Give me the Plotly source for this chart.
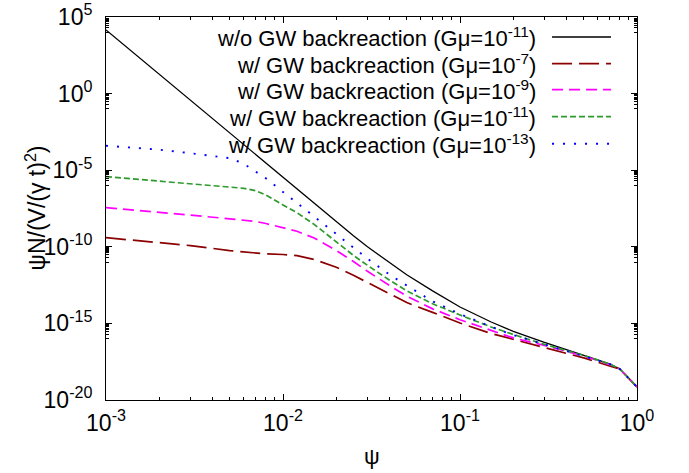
import plotly.graph_objects as go

# ---- data ----
psi = [0.001, 0.002, 0.003, 0.005, 0.006, 0.007, 0.008, 0.01, 0.012, 0.015, 0.02, 0.025,
       0.03, 0.04, 0.05, 0.07, 0.1, 0.15, 0.2, 0.3, 0.5, 0.7, 0.8, 1.0]

y_wo_gmu11 = [1.42e4, 17.7, 0.355, 2.56e-3, 4.42e-4, 1.0e-4, 2.78e-5, 3.24e-6, 5.66e-7, 6.6e-8,
              4.16e-9, 5.25e-10, 1.0e-10, 8.71e-12, 1.48e-12, 1.32e-13, 1.17e-14, 1.23e-15,
              3.05e-16, 5.75e-17, 8.79e-18, 2.27e-18, 1.05e-18, 7.06e-20]
y_w_gmu7 = [3.93e-10, 1.75e-10, 1.20e-10, 5.65e-11, 4.65e-11, 3.94e-11, 3.44e-11, 3.14e-11,
            2.62e-11, 1.48e-11, 4.59e-12, 1.38e-12, 4.57e-13, 8.32e-14, 2.29e-14, 5.25e-15,
            1.06e-15, 2.19e-16, 8.89e-17, 2.75e-17, 5.6e-18, 1.66e-18, 1.05e-18, 7.06e-20]
y_w_gmu9 = [3.56e-8, 1.84e-8, 1.16e-8, 6.73e-9, 5.45e-9, 4.48e-9, 3.32e-9, 1.74e-9, 1.03e-9,
            3.75e-10, 5.75e-11, 1.10e-11, 2.51e-12, 2.95e-13, 6.03e-14, 8.91e-15, 1.74e-15,
            3.49e-16, 1.13e-16, 3.66e-17, 7.55e-18, 2.07e-18, 1.05e-18, 7.06e-20]
y_w_gmu11 = [3.77e-6, 1.94e-6, 1.24e-6, 8.24e-7, 6.59e-7, 4.59e-7, 2.40e-7, 5.35e-8, 1.68e-8,
             2.90e-9, 2.06e-10, 2.75e-11, 6.19e-12, 6.61e-13, 1.35e-13, 1.91e-14, 3.53e-15,
             5.82e-16, 1.88e-16, 4.26e-17, 8.15e-18, 2.24e-18, 1.05e-18, 7.06e-20]
y_w_gmu13 = [3.97e-4, 2.18e-4, 1.29e-4, 6.07e-5, 2.65e-5, 8.6e-6, 2.96e-6, 3.84e-7, 7.23e-8,
             8.55e-9, 5.97e-10, 8.87e-11, 1.70e-11, 1.53e-12, 2.98e-13, 2.77e-14, 4.11e-15,
             6.0e-16, 1.75e-16, 4.33e-17, 7.91e-18, 2.24e-18, 1.05e-18, 7.06e-20]

series_names = [
    "w/o GW backreaction (G\u03bc=10<sup>-11</sup>)",
    "w/ GW backreaction (G\u03bc=10<sup>-7</sup>)",
    "w/ GW backreaction (G\u03bc=10<sup>-9</sup>)",
    "w/ GW backreaction (G\u03bc=10<sup>-11</sup>)",
    "w/ GW backreaction (G\u03bc=10<sup>-13</sup>)",
]
series_values = [y_wo_gmu11, y_w_gmu7, y_w_gmu9, y_w_gmu11, y_w_gmu13]

x_tick_vals = [1e-3, 1e-2, 1e-1, 1.0]
x_tick_text = ["10<sup>-3</sup>", "10<sup>-2</sup>", "10<sup>-1</sup>", "10<sup>0</sup>"]
y_tick_vals = [1e-20, 1e-15, 1e-10, 1e-5, 1.0, 1e5]
y_tick_text = ["10<sup>-20</sup>", "10<sup>-15</sup>", "10<sup>-10</sup>",
               "10<sup>-5</sup>", "10<sup>0</sup>", "10<sup>5</sup>"]

# ---- styles ----
colors = ["#000000", "#8b0000", "#ff00ff", "#2e9a2e", "#0000ff"]
dashes = ["solid", "20px,7px", "11px,6px", "6px,3px", "2px,9px"]
widths = [1.3, 1.7, 1.7, 1.7, 1.9]
FONT = "Liberation Sans, Arial, sans-serif"

fig = go.Figure()
for name, vals, c, d, w in zip(series_names, series_values, colors, dashes, widths):
    fig.add_trace(go.Scatter(x=psi, y=vals, mode="lines", name=name,
                             line=dict(color=c, dash=d, width=w), showlegend=False))

# minor ticks
x_minor = [k * 10.0 ** n for n in (-3, -2, -1) for k in range(2, 10)]
y_minor = [k * 10.0 ** (n - 1) for n in (5, 0, -5, -10, -15) for k in range(1, 10)]

fig.update_layout(
    width=689, height=473,
    margin=dict(l=106, r=52, t=17, b=73, autoexpand=False),
    paper_bgcolor="white", plot_bgcolor="white",
    font=dict(family=FONT, color="black", size=22),
    xaxis=dict(type="log", range=[-3, 0], showgrid=False, zeroline=False, automargin=False,
               showline=True, linecolor="black", linewidth=1, mirror="allticks",
               ticks="inside", ticklen=6, tickcolor="black", tickwidth=1,
               tickmode="array", tickvals=x_tick_vals, ticktext=x_tick_text,
               tickfont=dict(size=23, family=FONT), ticklabelstandoff=2,
               minor=dict(tickmode="array", tickvals=x_minor, ticks="inside",
                          ticklen=3, tickcolor="black", showgrid=False)),
    yaxis=dict(type="log", range=[-20, 5], showgrid=False, zeroline=False, automargin=False,
               showline=True, linecolor="black", linewidth=1, mirror="allticks",
               ticks="inside", ticklen=6, tickcolor="black", tickwidth=1,
               tickmode="array", tickvals=y_tick_vals, ticktext=y_tick_text,
               tickfont=dict(size=23, family=FONT), ticklabelstandoff=8,
               minor=dict(tickmode="array", tickvals=y_minor, ticks="inside",
                          ticklen=3, tickcolor="black", showgrid=False)),
)

# axis titles
fig.add_annotation(text="\u03c8", xref="paper", yref="paper", x=0.5, y=-0.1854,
                   showarrow=False, font=dict(size=22, family=FONT),
                   xanchor="center", yanchor="bottom")
fig.add_annotation(text="\u03c8N/(V/(\u03b3 t)<sup>2</sup>)", xref="paper", yref="paper",
                   x=-0.1337, y=0.5, textangle=-90, showarrow=False,
                   font=dict(size=23, family=FONT), xanchor="center", yanchor="middle")

# legend (text right-aligned, sample line on the right, as in the reference)
row_y = [0.9478, 0.8781, 0.8102, 0.7397, 0.6692]
for name, c, d, w, yy in zip(series_names, colors, dashes, widths, row_y):
    fig.add_annotation(text=name, xref="paper", yref="paper", x=0.8136, y=yy,
                       xanchor="right", yanchor="middle", showarrow=False,
                       font=dict(size=22, family=FONT))
    fig.add_shape(type="line", xref="paper", yref="paper", x0=0.840, x1=0.951,
                  y0=yy, y1=yy, line=dict(color=c, dash=d, width=w))

fig.write_html("out.html", config={"displayModeBar": False},
               post_script="document.body.style.margin='0';document.body.style.overflow='hidden';")
